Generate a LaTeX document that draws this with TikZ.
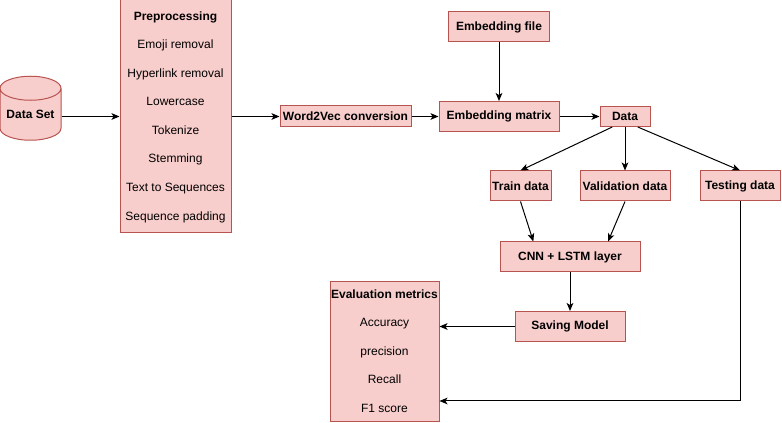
\documentclass[tikz,border=0pt]{standalone}
\usepackage{fontspec}
\setmainfont{Liberation Sans}
\usetikzlibrary{arrows.meta,shapes.geometric,calc}
\definecolor{boxfill}{HTML}{F8CECC}
\definecolor{boxline}{HTML}{B85450}
\tikzset{
	box/.style={draw=boxline, fill=boxfill, line width=0.75pt, inner sep=0pt, font=\fontsize{9}{10.8}\selectfont\bfseries},
	item/.style={inner sep=0pt, text height=8pt, text depth=1.9pt, font=\fontsize{9}{10.8}\selectfont},
	title/.style={item, font=\fontsize{9}{10.8}\selectfont\bfseries},
	flow/.style={line width=0.75pt, -{Stealth[length=6pt,width=5pt,inset=1.5pt]}}
}

\begin{document}
\begin{tikzpicture}[x=0.75pt,y=-0.75pt]
		\useasboundingbox (0,0) rectangle (782,423);
		% input and preprocessing
		\node [box, shape=cylinder, shape border rotate=90, aspect=0.5, minimum width=45.75pt, minimum height=48pt] (dataset) at (30.5,114.5) {Data Set};
		\node [box, minimum width=83.25pt, minimum height=174.75pt] (prep) at (175.5,116.5) {};
		\node [title] (prephead) at (175.5,16) {Preprocessing};
		\node [item] (emoji) at (175.5,44) {Emoji removal};
		\node [item] (hyper) at (175.5,73) {Hyperlink removal};
		\node [item] (lower) at (175.5,101) {Lowercase};
		\node [item] (token) at (175.5,130) {Tokenize};
		\node [item] (stem) at (175.5,158) {Stemming};
		\node [item] (seq) at (175.5,187) {Text to Sequences};
		\node [item] (pad) at (175.5,216) {Sequence padding};
		% embedding
		\node [box, minimum width=98.25pt, minimum height=15.75pt] (wvec) at (345.5,116.5) {Word2Vec conversion};
		\node [box, minimum width=90pt, minimum height=22.5pt] (embmat) at (499,116.5) {Embedding matrix};
		\node [box, minimum width=75.75pt, minimum height=22.5pt] (embfile) at (499,27) {Embedding file};
		\node [box, minimum width=37.5pt, minimum height=15pt] (data) at (625,116.5) {Data};
		% split and model
		\node [box, minimum width=45.75pt, minimum height=22.5pt] (train) at (520.5,186) {Train data};
		\node [box, minimum width=67.5pt, minimum height=22.5pt] (valid) at (625,186) {Validation data};
		\node [box, minimum width=60pt, minimum height=22.5pt] (test) at (740,186) {Testing data};
		\node [box, minimum width=105pt, minimum height=22.5pt] (cnn) at (570,257) {CNN + LSTM layer};
		\node [box, minimum width=82.5pt, minimum height=22.5pt] (save) at (570,326.5) {Saving Model};
		% evaluation
		\node [box, minimum width=81.75pt, minimum height=105pt] (eval) at (384.5,352) {};
		\node [title] (evalhead) at (384.5,294) {Evaluation metrics};
		\node [item] (acc) at (384.5,322.7) {Accuracy};
		\node [item] (prec) at (384.5,351) {precision};
		\node [item] (rec) at (384.5,379.3) {Recall};
		\node [item] (fone) at (384.5,408.3) {F1 score};
		\coordinate (evalin) at ([yshift=-36.75pt]eval.east);

		\draw [flow] (dataset.east |- prep.west) -- (prep.west);
		\draw [flow] (prep.east) -- (wvec.west);
		\draw [flow] (wvec.west -| wvec.east) -- (embmat.west);
		\draw [flow] (embfile.south) -- (embmat.north);
		\draw [flow] (embmat.east) -- (data.west);
		\draw [flow] ($(data.south west)!0.25!(data.south east)$) -- (train.north);
		\draw [flow] (data.south) -- (valid.north);
		\draw [flow] ($(data.south west)!0.75!(data.south east)$) -- (test.north);
		\draw [flow] (train.south) -- ($(cnn.north west)!0.24!(cnn.north east)$);
		\draw [flow] (valid.south) -- ($(cnn.north west)!0.77!(cnn.north east)$);
		\draw [flow] (cnn.south) -- (save.north);
		\draw [flow] (save.west) -- (save.west -| eval.east);
		\draw [flow] (test.south) |- (evalin);
	\end{tikzpicture}
\end{document}
